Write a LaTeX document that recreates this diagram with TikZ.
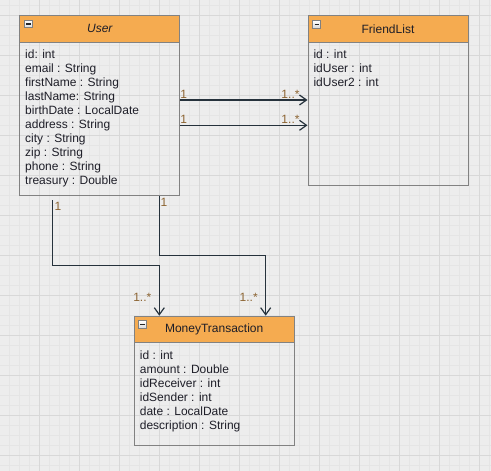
\documentclass[tikz,border=0pt]{standalone}
\usepackage{fontspec}
\setmainfont{Liberation Sans}
\usetikzlibrary{arrows.meta}
\definecolor{bgc}{RGB}{237,237,237}
\definecolor{minorc}{RGB}{229,229,229}
\definecolor{majorc}{RGB}{216,216,216}
\definecolor{hdrc}{RGB}{245,171,80}
\definecolor{boxc}{RGB}{130,130,130}
\definecolor{connc}{RGB}{38,50,60}
\definecolor{lblc}{RGB}{140,100,50}
\definecolor{txtc}{RGB}{30,30,40}
\tikzset{
  hdr/.style={draw=boxc, line width=1pt, fill=hdrc, minimum width=160pt, minimum height=26.5pt, inner sep=0pt, anchor=north west, text=txtc, font=\fontsize{12}{14}\selectfont},
  classbody/.style={draw=boxc, line width=1pt, minimum width=160pt, inner sep=0pt, anchor=north west},
  attr/.style={anchor=north west, inner sep=0pt, align=left, text=txtc, font=\fontsize{12}{14}\selectfont},
  lbl/.style={inner sep=0pt, text=lblc, font=\fontsize{12}{14}\selectfont},
  conn/.style={draw=connc, line width=1.2pt, -{Straight Barb[length=7pt,width=10pt,line width=1.2pt]}},
  minusbox/.style={draw=gray, line width=0.8pt, top color=white, bottom color=black!15, minimum width=8pt, minimum height=7.5pt, inner sep=0pt,
    path picture={\draw[black!85, line width=1.3pt] ([xshift=1.8pt]path picture bounding box.west) -- ([xshift=-1.8pt]path picture bounding box.east);}}
}
\begin{document}
\begin{tikzpicture}[x=1pt,y=-1pt]
\fill[bgc] (0,0) rectangle (491,471);
\useasboundingbox (0,0) rectangle (491,471);
\foreach \x in {9.3,19.3,...,489.3} \draw[minorc, line width=1pt] (\x,0) -- (\x,471);
\foreach \y in {5,15,...,465} \draw[minorc, line width=1pt] (0,\y) -- (491,\y);
\foreach \x in {39.3,79.3,...,479.3} \draw[majorc, line width=1pt] (\x,0) -- (\x,471);
\foreach \y in {15,55,...,455} \draw[majorc, line width=1pt] (0,\y) -- (491,\y);

% User
\node[hdr, font=\fontsize{12}{14}\selectfont\itshape] (userH) at (19.3,15) {User};
\node[classbody, minimum height=153.7pt] (userB) at (19.3,41.5) {};
\node[minusbox] (userM) at (28.3,24) {};
\node[attr] (userA) at (25,49.8) {id: int\\email : String\\firstName : String\\lastName: String\\birthDate : LocalDate\\address : String\\city : String\\zip : String\\phone : String\\treasury : Double};

% FriendList
\node[hdr] (flH) at (307.5,15) {FriendList};
\node[classbody, minimum height=143.7pt] (flB) at (307.5,41.5) {};
\node[minusbox] (flM) at (316.7,24.3) {};
\node[attr] (flA) at (313.3,49.8) {id : int\\idUser : int\\idUser2 : int};

% MoneyTransaction
\node[hdr] (mtH) at (133.7,315.7) {MoneyTransaction};
\node[classbody, minimum height=103.7pt] (mtB) at (133.7,341.7) {};
\node[minusbox] (mtM) at (142.5,324.5) {};
\node[attr] (mtA) at (139.7,350.3) {id : int\\amount : Double\\idReceiver : int\\idSender : int\\date : LocalDate\\description : String};

% connectors
\draw[conn] (userB.east |- 0,100) -- (flB.west |- 0,100);
\draw[conn] (userB.east |- 0,125.3) -- (flB.west |- 0,125.3);
\coordinate (s1) at (52.3,200);
\draw[conn] (s1) |- (159.3,265.3) -- (mtH.north -| 159.3,0);
\draw[conn] (userB.south -| 159.3,0) |- (265.7,255.3) -- (mtH.north -| 265.7,0);

% multiplicity labels
\node[lbl] (m1) at (183.8,94) {1};
\node[lbl] (m2) at (183.8,119.3) {1};
\node[lbl] (m3) at (290.5,94) {1..*};
\node[lbl] (m4) at (290.5,119.3) {1..*};
\node[lbl] (m5) at (58,206.5) {1};
\node[lbl] (m6) at (164,202) {1};
\node[lbl] (m7) at (142.3,297) {1..*};
\node[lbl] (m8) at (248.7,297) {1..*};
\end{tikzpicture}
\end{document}
